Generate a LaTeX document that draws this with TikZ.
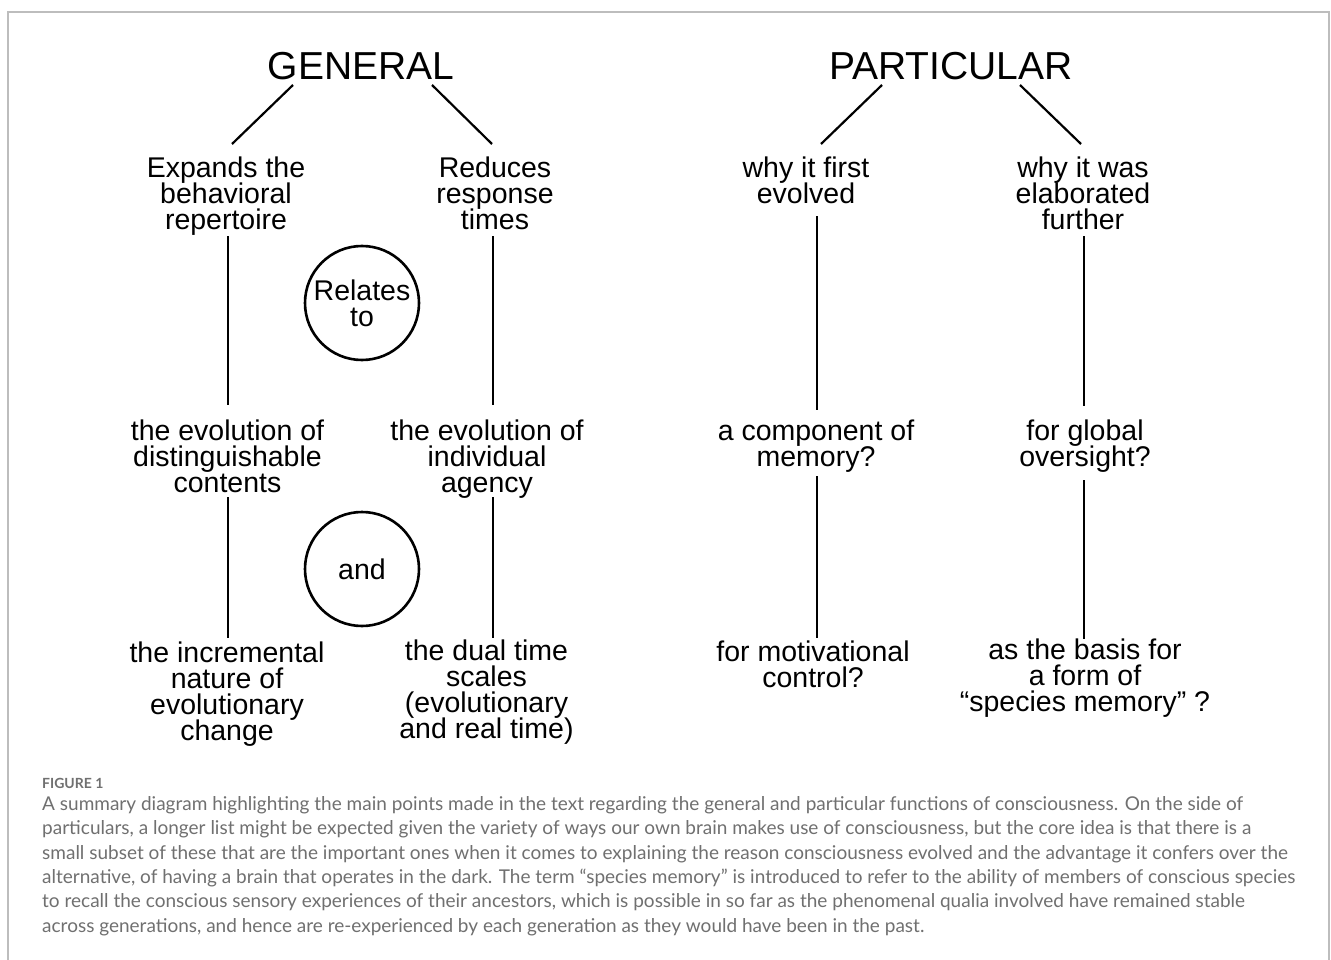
\documentclass[tikz,border=0pt]{standalone}
\usepackage{fontspec}
\setmainfont{Liberation Sans}
\newfontfamily\capfont{Lato}
\usetikzlibrary{calc}
\definecolor{framegray}{HTML}{BDBDBD}
\definecolor{capgray}{HTML}{707070}
\newcommand\topst{\rule{0pt}{22pt}}
\newcommand\botst{\rule[-7pt]{0pt}{7pt}}
\newcommand\itemfont{\fontsize{28.5}{26}\selectfont\lineskiplimit-50pt\relax}
\newcommand\capfontsz{\capfont\fontsize{19}{24.3}\selectfont\lineskiplimit-50pt\relax}
\begin{document}
\begin{tikzpicture}[x=1pt,y=-1pt,
  title/.style={anchor=base,inner sep=0pt,font=\fontsize{39}{42}\selectfont},
  item/.style={anchor=north,inner sep=0pt,align=center,font=\itemfont},
  ring/.style={circle,draw,line width=2.6pt,minimum size=114pt,inner sep=0pt,align=center,font=\itemfont},
  conn/.style={draw,line width=2.2pt},
  frame/.style={draw=framegray,line width=1.4pt},
  caphead/.style={anchor=base west,inner sep=0pt,text=capgray,font=\capfont\bfseries\fontsize{14}{16}\selectfont},
  captext/.style={anchor=base west,inner sep=0pt,align=left,text=capgray,font=\capfontsz}]
\useasboundingbox (0,0) rectangle (1331,960);
\fill[white] (0,0) rectangle (1331,960);
\draw[frame] (8,962) -- (8,12) -- (1329,12) -- (1329,962);

% titles
\node[title] (gen) at (361,80) {GENERAL};
\node[title] (part) at (951,80) {PARTICULAR};

% first row
\node[item] (exp) at (226,155) {\topst Expands the\\behavioral\\repertoire\botst};
\node[item] (red) at (495,155) {\topst Reduces\\response\\times\botst};
\node[item] (why1) at (806,155) {\topst why it first\\evolved\botst};
\node[item] (why2) at (1083,155) {\topst why it was\\elaborated\\further\botst};

% second row
\node[item] (evo1) at (227.5,418) {\topst the evolution of\\distinguishable\\contents\botst};
\node[item] (evo2) at (487,418) {\topst the evolution of\\individual\\agency\botst};
\node[item] (comp) at (816,418) {\topst a component of\\memory?\botst};
\node[item] (glob) at (1085,418) {\topst for global\\oversight?\botst};

% third row
\node[item] (inc) at (227,640) {\topst the incremental\\nature of\\evolutionary\\change\botst};
\node[item] (dual) at (486.5,638) {\topst the dual time\\scales\\(evolutionary\\and real time)\botst};
\node[item] (mot) at (813,639) {\topst for motivational\\control?\botst};
\node[item] (basis) at (1085,637) {\topst as the basis for\\a form of\\“species memory” ?\botst};

% circles
\node[ring] (rel) at (362,303) {Relates\\to};
\node[ring] (and) at (362,569) {and};

% connectors
\draw[conn] ($(gen.base)+(-68,5)$) -- ($(exp.north)+(6,-11)$);
\draw[conn] ($(gen.base)+(71,5)$) -- ($(red.north)+(-3,-11)$);
\draw[conn] ($(part.base)+(-69,5)$) -- ($(why1.north)+(15,-11)$);
\draw[conn] ($(part.base)+(69,5)$) -- ($(why2.north)+(-2,-11)$);

\draw[conn] ($(exp.south)+(2,0)$) -- ($(evo1.north)+(0.5,-13)$);
\draw[conn] ($(red.south)+(-2,0)$) -- ($(evo2.north)+(6,-13)$);
\draw[conn] ($(why1.south)+(11,6)$) -- ($(comp.north)+(1,-8)$);
\draw[conn] ($(why2.south)+(1,0)$) -- ($(glob.north)+(-1,-12)$);

\draw[conn] ($(evo1.south)+(0.5,-2)$) -- ($(inc.north)+(1,-2)$);
\draw[conn] ($(evo2.south)+(6,-2)$) -- ($(dual.north)+(6.5,0)$);
\draw[conn] ($(comp.south)+(1,3)$) -- ($(mot.north)+(4,-1)$);
\draw[conn] ($(glob.south)+(-1,7)$) -- ($(basis.north)+(-1,2)$);

% caption (base anchor = baseline of the last line)
\node[caphead] (fig) at (42,788) {FIGURE 1};
\node[captext] (cap) at (42,932) {A summary diagram highlighting the main points made in the text regarding the general and particular functions of consciousness. On the side of\\
particulars, a longer list might be expected given the variety of ways our own brain makes use of consciousness, but the core idea is that there is a\\
small subset of these that are the important ones when it comes to explaining the reason consciousness evolved and the advantage it confers over the\\
alternative, of having a brain that operates in the dark. The term “species memory” is introduced to refer to the ability of members of conscious species\\
to recall the conscious sensory experiences of their ancestors, which is possible in so far as the phenomenal qualia involved have remained stable\\
across generations, and hence are re-experienced by each generation as they would have been in the past.};
\end{tikzpicture}
\end{document}
